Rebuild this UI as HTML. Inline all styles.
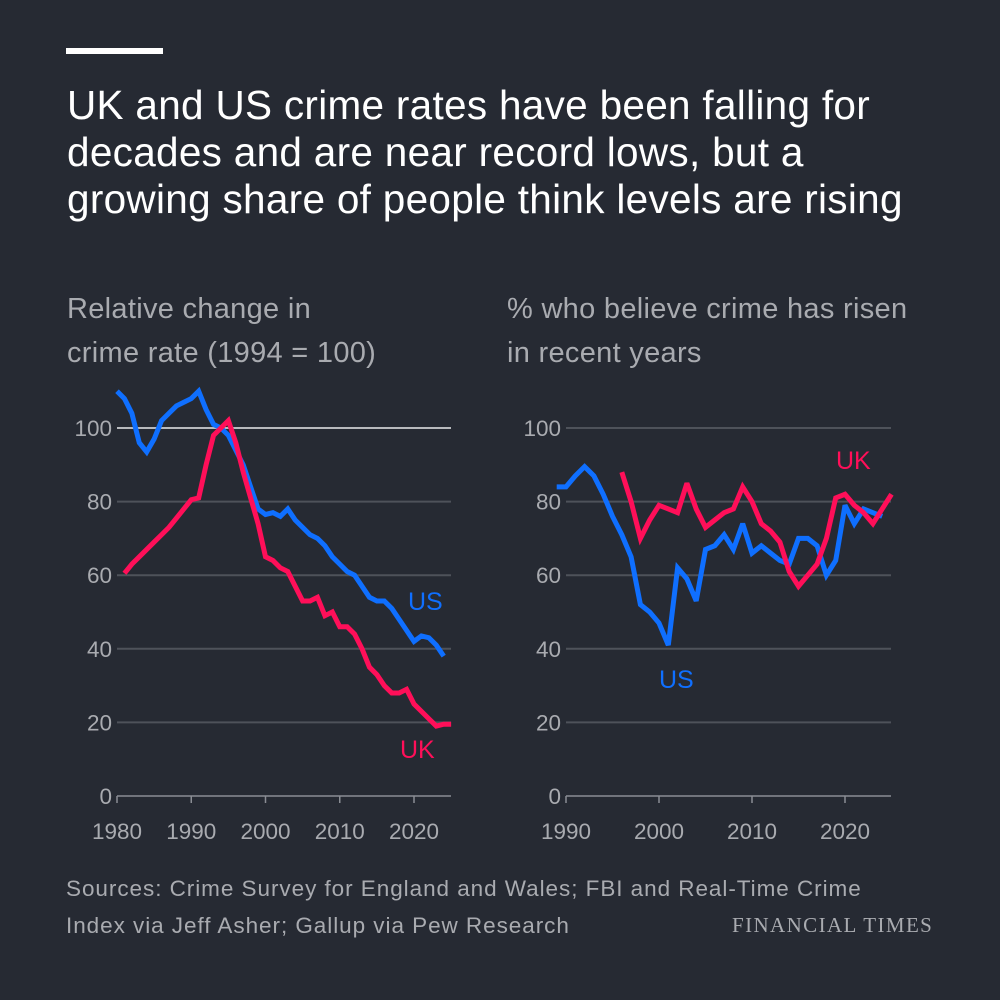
<!DOCTYPE html>
<html><head><meta charset="utf-8"><style>
body{margin:0;width:1000px;height:1000px;background:#262a33;overflow:hidden;font-family:"Liberation Sans",sans-serif}
.t{position:absolute;left:67px;color:#fff;font-size:40.5px;line-height:47px;letter-spacing:0.3px}
.sub{position:absolute;color:#a9abb0;font-size:29px;line-height:44px;letter-spacing:0.3px}
.src{position:absolute;left:66px;color:#a9abb0;font-size:22.5px;line-height:37px;letter-spacing:0.95px}
</style></head><body>
<div style="position:absolute;left:66px;top:48px;width:97px;height:6px;background:#fff"></div>
<div class="t" style="top:82px">UK and US crime rates have been falling for<br>decades and are near record lows, but a<br>growing share of people think levels are rising</div>
<div class="sub" style="left:67px;top:287px">Relative change in<br>crime rate (1994 = 100)</div>
<div class="sub" style="left:507px;top:287px">% who believe crime has risen<br>in recent years</div>
<div class="src" style="top:870px">Sources: Crime Survey for England and Wales; FBI and Real-Time Crime<br>Index via Jeff Asher; Gallup via Pew Research</div>
<div style="position:absolute;left:732px;top:913px;color:#a9abb0;font-family:'Liberation Serif',serif;font-size:21px;letter-spacing:1.4px">FINANCIAL TIMES</div>
<svg id="c" width="1000" height="1000" style="position:absolute;left:0;top:0"></svg>
<script>
const leftYears=[1980,1981,1982,1983,1984,1985,1986,1987,1988,1989,1990,1991,1992,1993,1994,1995,1996,1997,1998,1999,2000,2001,2002,2003,2004,2005,2006,2007,2008,2009,2010,2011,2012,2013,2014,2015,2016,2017,2018,2019,2020,2021,2022,2023,2024,2025];
const leftUS=[110,108,104,96,93.5,97,102,104,106,107,108,110,105,101,100,98,94,90,84,78,76.5,77,76,78,75,73,71,70,68,65,63,61,60,57,54,53,53,51,48,45,42,43.5,43,41,38];
const leftUKYears=[1981,1982,1983,1984,1985,1986,1987,1988,1989,1990,1991,1992,1993,1994,1995,1996,1997,1998,1999,2000,2001,2002,2003,2004,2005,2006,2007,2008,2009,2010,2011,2012,2013,2014,2015,2016,2017,2018,2019,2020,2021,2022,2023,2024,2025];
const leftUK=[60.5,63,65,67,69,71,73,75.5,78,80.5,81,90,98,100,102,96,88,81,74,65,64,62,61,57,53,53,54,49,50,46,46,44,40,35,33,30,28,28,29,25,23,21,19,19.5,19.5];
const rightUSYears=[1989,1990,1991,1992,1993,1994,1995,1996,1997,1998,1999,2000,2001,2002,2003,2004,2005,2006,2007,2008,2009,2010,2011,2012,2013,2014,2015,2016,2017,2018,2019,2020,2021,2022,2023,2024];
const rightUS=[84,84,87,89.5,87,82,76,71,65,52,50,47,41,62,59,53,67,68,71,67,74,66,68,66,64,63,70,70,68,60,64,79,74,78,77,76];
const rightUKYears=[1996,1997,1998,1999,2000,2001,2002,2003,2004,2005,2006,2007,2008,2009,2010,2011,2012,2013,2014,2015,2016,2017,2018,2019,2020,2021,2022,2023,2024,2025];
const rightUK=[88,80,70,75,79,78,77,85,78,73,75,77,78,84,80,74,72,69,61,57,60,63,70,81,82,79,77,74,78,82];
const yTicks=[0,20,40,60,80,100];
const leftXTicks=[1980,1990,2000,2010,2020];
const rightXTicks=[1990,2000,2010,2020];
const NS="http://www.w3.org/2000/svg";
const svg=document.getElementById('c');
const y=v=>796-v*3.68;
const xL=t=>117+(t-1980)*7.425;
const xR=t=>566+(t-1990)*9.3;
function el(tag,a,txt){const e=document.createElementNS(NS,tag);for(const k in a)e.setAttribute(k,a[k]);if(txt!=null)e.textContent=txt;svg.appendChild(e);return e;}
function panel(x,x0,x1,xt,side){
  yTicks.forEach(v=>{
    const g=el('line',{x1:x0,x2:x1,y1:y(v),y2:y(v),stroke:v===0?'#8a8d94':(v===100&&side==='left'?'#b8babe':'#4e525a'),'stroke-width':v===0?1.5:2});
    
    
    const t=el('text',{x:x0-5,y:y(v)+8,'text-anchor':'end',fill:'#a9abb0','font-size':22.5,'font-family':'Liberation Sans, sans-serif'},v);
    
    
  });
  xt.forEach(v=>{
    const l=el('line',{x1:x(v),x2:x(v),y1:796,y2:803,stroke:'#8a8d94','stroke-width':1.5});
    
    
    const t=el('text',{x:x(v),y:839,'text-anchor':'middle',fill:'#a9abb0','font-size':22.5,'font-family':'Liberation Sans, sans-serif'},v);
    
    
  });
}
function line(x,yrs,vals,col,name){
  const p=el('polyline',{points:yrs.map((t,i)=>x(t)+','+y(vals[i])).join(' '),fill:'none',stroke:col,'stroke-width':5,'stroke-linejoin':'miter','stroke-miterlimit':3});
  
  
}
panel(xL,117,451,leftXTicks,'left');
panel(xR,566,891,rightXTicks,'right');
line(xL,leftYears,leftUS,'#0f6fff','left-us-line');
line(xL,leftUKYears,leftUK,'#ff0f59','left-uk-line');
line(xR,rightUSYears,rightUS,'#0f6fff','right-us-line');
line(xR,rightUKYears,rightUK,'#ff0f59','right-uk-line');
[[408,610,'US','#0f6fff','left-us-label'],[400,758,'UK','#ff0f59','left-uk-label'],[659,688,'US','#0f6fff','right-us-label'],[836,469,'UK','#ff0f59','right-uk-label']].forEach(a=>{
  const t=el('text',{x:a[0],y:a[1],fill:a[3],'font-size':25,'font-family':'Liberation Sans, sans-serif'},a[2]);
  
  
});
</script>
</body></html>
